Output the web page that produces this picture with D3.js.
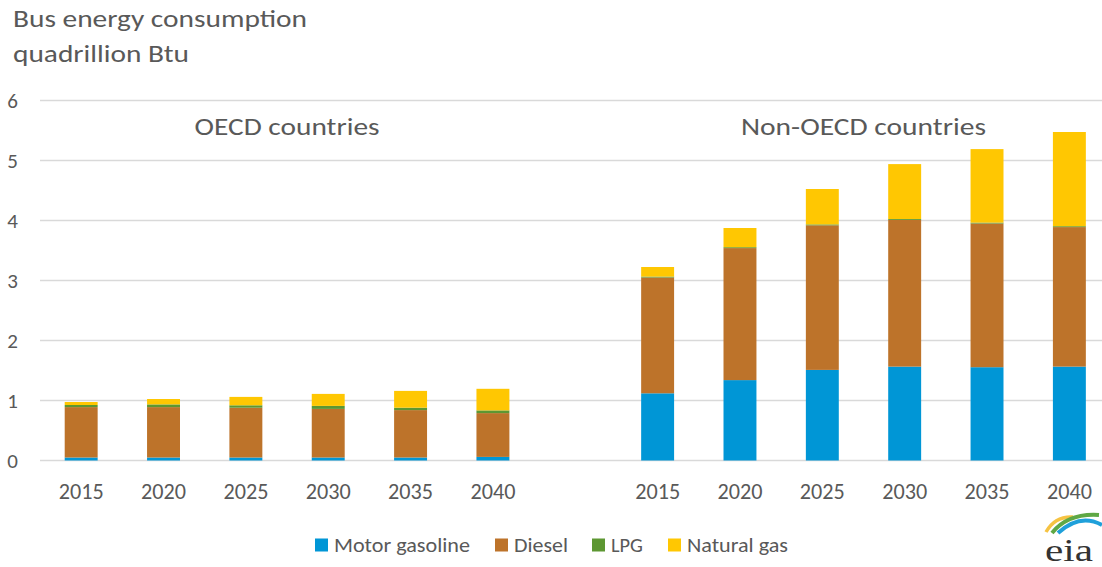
<!DOCTYPE html>
<html>
<head>
<meta charset="utf-8">
<script src="https://cdn.jsdelivr.net/npm/d3@7"></script>
<style>
  html, body { margin: 0; padding: 0; background: #fff; }
  svg { display: block; font-family: Carlito, Calibri, "Open Sans", "Noto Sans", sans-serif; }
</style>
</head>
<body>
<svg id="chart" width="1102" height="567"></svg>
<script>
// ---- data ----
const years = ["2015", "2020", "2025", "2030", "2035", "2040"];
const groups = ["OECD countries", "Non-OECD countries"];
const seriesNames = ["Motor gasoline", "Diesel", "LPG", "Natural gas"];
const seriesColors = ["#0096D6", "#BD732A", "#5D9732", "#FFC702"];

const oecdGasoline = [0.05, 0.05, 0.05, 0.05, 0.05, 0.06];
const oecdDiesel   = [0.84, 0.84, 0.83, 0.81, 0.79, 0.73];
const oecdLPG      = [0.035, 0.045, 0.04, 0.05, 0.04, 0.045];
const oecdNatGas   = [0.05, 0.09, 0.14, 0.20, 0.28, 0.36];

const nonGasoline = [1.12, 1.34, 1.51, 1.565, 1.555, 1.565];
const nonDiesel   = [1.93, 2.20, 2.41, 2.445, 2.395, 2.325];
const nonLPG      = [0.015, 0.015, 0.015, 0.015, 0.015, 0.015];
const nonNatGas   = [0.16, 0.32, 0.59, 0.915, 1.225, 1.57];

const yTicks = [0, 1, 2, 3, 4, 5, 6];

// ---- build rows ----
const keys = ["Motor gasoline", "Diesel", "LPG", "Natural gas"];
const rows = [];
years.forEach((y, i) => rows.push({key: "OECD-" + y, year: y,
  "Motor gasoline": oecdGasoline[i], "Diesel": oecdDiesel[i], "LPG": oecdLPG[i], "Natural gas": oecdNatGas[i]}));
const gapKey = "gap";
years.forEach((y, i) => rows.push({key: "NON-" + y, year: y,
  "Motor gasoline": nonGasoline[i], "Diesel": nonDiesel[i], "LPG": nonLPG[i], "Natural gas": nonNatGas[i]}));

const domain = rows.slice(0, 6).map(r => r.key).concat([gapKey]).concat(rows.slice(6).map(r => r.key));

const svg = d3.select("#chart");
const textColor = "#595959";

const x = d3.scaleBand().domain(domain).range([40, 40 + 13 * 82.35]).paddingInner(0.6).paddingOuter(0.3);
const y = d3.scaleLinear().domain([0, 6]).range([460.5, 100.5]);

// gridlines
svg.append("g").selectAll("line").data(yTicks).join("line")
  .attr("x1", 40).attr("x2", 1110)
  .attr("y1", d => y(d)).attr("y2", d => y(d))
  .attr("stroke", "#d9d9d9").attr("stroke-width", 1.5);

// y axis labels
const yAxis = d3.axisLeft(y).tickValues(yTicks).tickSize(0).tickPadding(0).tickFormat(d3.format("d"));
const yg = svg.append("g").attr("transform", "translate(18,0)").call(yAxis);
yg.select(".domain").remove();
yg.selectAll("text").attr("font-size", 21).attr("fill", textColor)
  .attr("font-family", "Carlito, Calibri, 'Open Sans', sans-serif").attr("text-anchor", "end").attr("dy", "0.34em");

// stacked bars
const stack = d3.stack().keys(keys);
const stacked = stack(rows);
const color = d3.scaleOrdinal().domain(seriesNames).range(seriesColors);

svg.append("g").selectAll("g").data(stacked).join("g")
  .attr("fill", d => color(d.key))
  .selectAll("rect").data(d => d).join("rect")
  .attr("x", d => x(d.data.key))
  .attr("width", x.bandwidth())
  .attr("y", d => y(d[1]))
  .attr("height", d => y(d[0]) - y(d[1]));

// x labels
const xAxis = d3.axisBottom(x).tickValues(rows.map(r => r.key)).tickSize(0).tickPadding(0)
  .tickFormat(k => rows.find(r => r.key === k).year);
const xg = svg.append("g").attr("transform", "translate(0,483)").call(xAxis);
xg.select(".domain").remove();
xg.selectAll("text").attr("font-size", 22).attr("fill", textColor)
  .attr("font-family", "Carlito, Calibri, 'Open Sans', sans-serif").attr("dy", "0.71em")
  .attr("textLength", 45).attr("lengthAdjust", "spacingAndGlyphs");

// group labels
const groupCenters = [
  (x(rows[0].key) + x(rows[5].key) + x.bandwidth()) / 2,
  (x(rows[6].key) + x(rows[11].key) + x.bandwidth()) / 2
];
const groupWidths = [185, 245];
svg.append("g").selectAll("text").data(groups).join("text")
  .attr("x", (d, i) => groupCenters[i]).attr("y", 135)
  .attr("text-anchor", "middle").attr("font-size", 24).attr("fill", textColor)
  .attr("textLength", (d, i) => groupWidths[i]).attr("lengthAdjust", "spacingAndGlyphs")
  .text(d => d);

// title
svg.append("text").attr("x", 13).attr("y", 27).attr("font-size", 24).attr("fill", textColor)
  .attr("textLength", 294).attr("lengthAdjust", "spacingAndGlyphs").text("Bus energy consumption");
svg.append("text").attr("x", 13).attr("y", 62).attr("font-size", 24).attr("fill", textColor)
  .attr("textLength", 176).attr("lengthAdjust", "spacingAndGlyphs").text("quadrillion Btu");

// legend
const legendX = [315, 495, 592, 668];
const legendW = [136, 54, 32, 101];
const lg = svg.append("g").selectAll("g").data(seriesNames).join("g")
  .attr("transform", (d, i) => `translate(${legendX[i]},0)`);
lg.append("rect").attr("x", 0).attr("y", 538.5).attr("width", 13).attr("height", 13).attr("fill", d => color(d));
lg.append("text").attr("x", 19).attr("y", 552).attr("font-size", 21).attr("fill", textColor)
  .attr("textLength", (d, i) => legendW[i]).attr("lengthAdjust", "spacingAndGlyphs").text(d => d);

// eia logo
const logo = svg.append("g");
logo.append("path").attr("d", "M1046,532 Q1055,516 1073,517").attr("fill", "none").attr("stroke", "#F6C342").attr("stroke-width", 3.5);
logo.append("path").attr("d", "M1052,533 Q1068,513 1099,515").attr("fill", "none").attr("stroke", "#5FA845").attr("stroke-width", 4);
logo.append("path").attr("d", "M1058,533 Q1080,513 1102,525").attr("fill", "none").attr("stroke", "#1FA0DA").attr("stroke-width", 4);
logo.append("text").attr("x", 1045).attr("y", 561).attr("font-family", "'Liberation Serif', 'DejaVu Serif', serif")
  .attr("font-size", 31).attr("fill", "#333333").attr("textLength", 48).attr("lengthAdjust", "spacingAndGlyphs").text("eia");
</script>
</body>
</html>
